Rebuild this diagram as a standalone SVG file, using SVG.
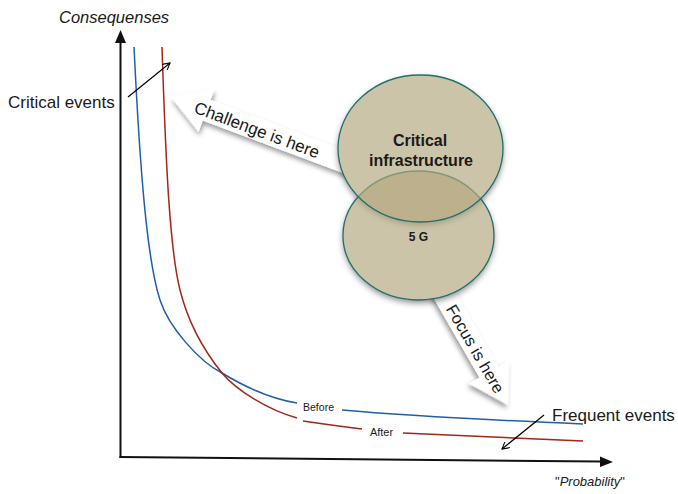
<svg xmlns="http://www.w3.org/2000/svg" width="678" height="494" viewBox="0 0 678 494">
<defs>
<style>
.lbl{font-family:"Liberation Sans",Arial,Helvetica,sans-serif;fill:#1a1a1a}
.axis{stroke:#111;stroke-width:2;fill:none}
.blue{stroke:#1f5fa6;stroke-width:1.5;fill:none}
.red{stroke:#a3261a;stroke-width:1.5;fill:none}
.thin{stroke:#000;stroke-width:1.2;fill:none}
.bigarrow{fill:#fff;filter:url(#sh)}
.ell{fill:#b4a87f;fill-opacity:0.68;stroke:#1f6f6c;stroke-width:1.3}
.ellbase{fill:#fff;filter:url(#esh)}
</style>
<filter id="sh" x="-20%" y="-30%" width="150%" height="170%">
<feDropShadow dx="2" dy="3" stdDeviation="2.5" flood-color="#000" flood-opacity="0.4"/>
</filter>
<filter id="esh" x="-20%" y="-20%" width="140%" height="150%">
<feDropShadow dx="0" dy="3" stdDeviation="3" flood-color="#000" flood-opacity="0.45"/>
</filter>
<marker id="open" viewBox="0 0 10 10" refX="9" refY="5" markerWidth="8" markerHeight="8" markerUnits="userSpaceOnUse" orient="auto">
<path d="M0,0 L9,5 L0,10" fill="none" stroke="#000" stroke-width="1.3"/>
</marker>
</defs>

<g id="axes">
<line class="axis" x1="120.5" y1="458" x2="120.5" y2="42"/>
<polygon points="120.5,30 115,43 126,43" fill="#111"/>
<line class="axis" x1="119.5" y1="457" x2="601" y2="461.5"/>
<polygon points="613,462 600,456.5 600,467" fill="#111"/>
<text class="lbl" x="59" y="23" font-size="16.5" font-style="italic">Consequenses</text>
<text class="lbl" x="555" y="486" font-size="13">"<tspan font-style="italic">Probability</tspan>"</text>
</g>

<g id="curves">
<path class="blue" d="M134,47 C140,170 147,260 160,300 C169,328 200,362 222,373 C245,387 272,399 297,403"/>
<path class="blue" d="M342,410 Q420,417 583,424"/>
<path class="red" d="M162,47 C166,170 170,250 180,290 C189,326 205,352 222,373 C236,390 268,410 297,418"/>
<path class="red" d="M303,421 Q330,425 362,429"/>
<path class="red" d="M403,433 Q490,437 583,441"/>
<text class="lbl" x="318.5" y="411" font-size="10.5" text-anchor="middle">Before</text>
<text class="lbl" x="381.5" y="435.5" font-size="11" text-anchor="middle">After</text>
</g>

<g id="challenge-arrow" transform="translate(171,97) rotate(20.5)">
<polygon class="bigarrow" points="0,0 38,-23 38,-11 200,-11 200,11 38,11 38,23"/>
<text class="lbl" x="92" y="6.5" font-size="17" text-anchor="middle">Challenge is here</text>
</g>

<g id="focus-arrow" transform="translate(508,405) rotate(60)">
<polygon class="bigarrow" points="0,0 -38,-23 -38,-11 -140,-11 -140,11 -38,11 -38,23"/>
<text class="lbl" x="-65" y="6" font-size="16.5" text-anchor="middle">Focus is here</text>
</g>

<g id="ellipses">
<ellipse class="ellbase" cx="418.5" cy="235.5" rx="75.5" ry="64.5"/>
<ellipse class="ellbase" cx="420.5" cy="148.5" rx="82.5" ry="73.5"/>
<g id="node-5g">
<ellipse class="ell" cx="418.5" cy="235.5" rx="75.5" ry="64.5"/>
</g>
<g id="node-critical-infrastructure">
<ellipse class="ell" cx="420.5" cy="148.5" rx="82.5" ry="73.5"/>
<text class="lbl" x="420" y="146" font-size="16" font-weight="bold" text-anchor="middle">Critical</text>
<text class="lbl" x="421" y="166" font-size="16" font-weight="bold" text-anchor="middle">infrastructure</text>
</g>
<text class="lbl" x="418.5" y="241" font-size="12" font-weight="bold" text-anchor="middle">5 G</text>
</g>

<g id="connectors">
<line class="thin" x1="128" y1="97" x2="170" y2="63" marker-end="url(#open)"/>
<line class="thin" x1="544" y1="415" x2="502" y2="449" marker-end="url(#open)"/>
</g>

<g id="labels">
<text class="lbl" x="8" y="108" font-size="17">Critical events</text>
<text class="lbl" x="552" y="421" font-size="17">Frequent events</text>
</g>
</svg>
